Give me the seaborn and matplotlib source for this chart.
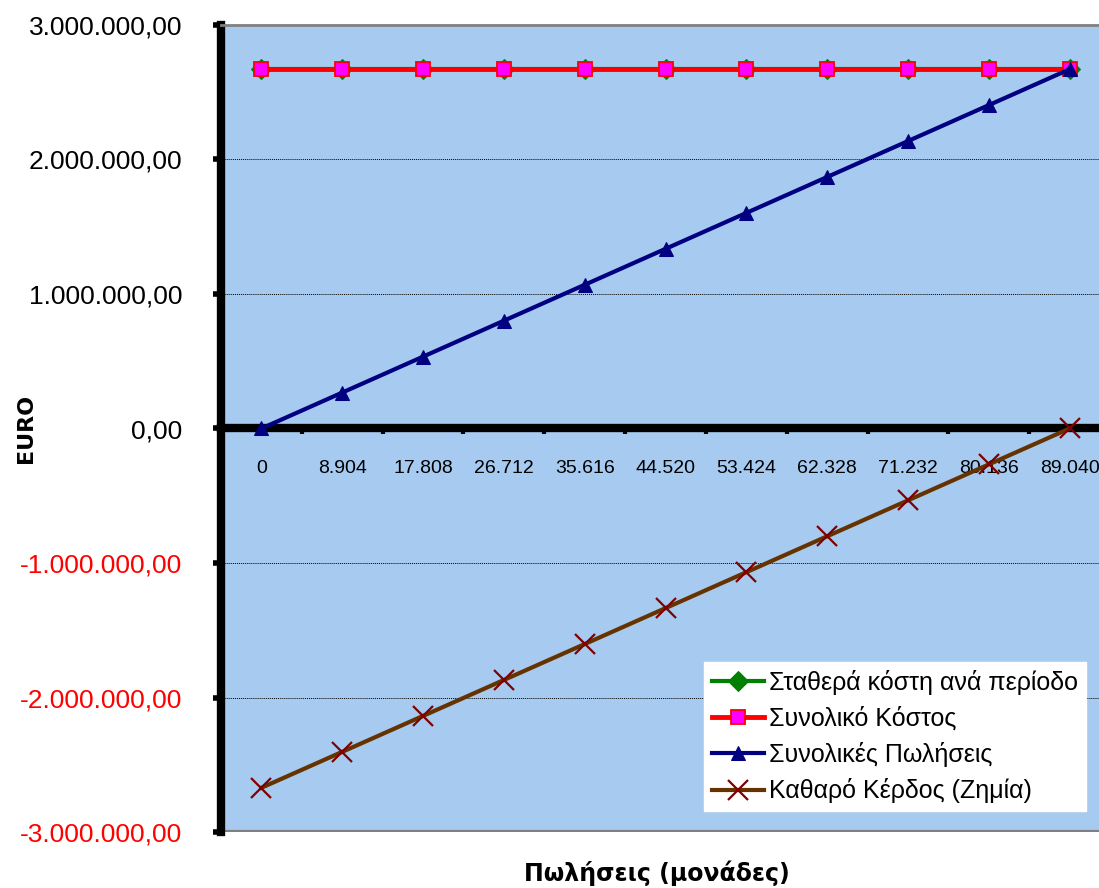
import matplotlib
matplotlib.use("Agg")
import matplotlib.pyplot as plt
import seaborn as sns
import numpy as np

# units sold (categories on the x axis)
units = [0, 8904, 17808, 26712, 35616, 44520, 53424, 62328, 71232, 80136, 89040]
unit_labels = ["0", "8.904", "17.808", "26.712", "35.616", "44.520",
               "53.424", "62.328", "71.232", "80.136", "89.040"]

# series values (EURO)
fixed_cost = [2671200] * 11
total_cost = [2671200] * 11
total_sales = [0, 267120, 534240, 801360, 1068480, 1335600,
               1602720, 1869840, 2136960, 2404080, 2671200]
net_profit = [-2671200, -2404080, -2136960, -1869840, -1602720, -1335600,
              -1068480, -801360, -534240, -267120, 0]

y_ticks = [-3000000, -2000000, -1000000, 0, 1000000, 2000000, 3000000]

series = [
    ("Σταθερά κόστη ανά περίοδο", fixed_cost,
     dict(color="#008000", marker="D", markersize=10, markerfacecolor="#008000", markeredgecolor="#008000")),
    ("Συνολικό Κόστος", total_cost,
     dict(color="#FF0000", marker="s", markersize=10, markerfacecolor="#FF00FF", markeredgecolor="#FF0000", markeredgewidth=1.3)),
    ("Συνολικές Πωλήσεις", total_sales,
     dict(color="#000080", marker="^", markersize=10, markerfacecolor="#000080", markeredgecolor="#000080")),
    ("Καθαρό Κέρδος (Ζημία)", net_profit,
     dict(color="#663300", marker="x", markersize=14, markeredgecolor="#800000", markeredgewidth=1.6)),
]

fig = plt.figure(figsize=(10.99, 8.88), dpi=100)
ax = fig.add_axes([221 / 1099, (888 - 832) / 888, 889 / 1099, 807 / 888])
ax.set_facecolor("#A6CAF0")

pos = np.arange(len(units))
for name, vals, style in series:
    lw = 3.5 if name == "Συνολικό Κόστος" else 3
    sns.lineplot(x=pos, y=vals, ax=ax, label=name, linewidth=lw, zorder=3, **style)

ax.set_xlim(-0.5, len(units) - 0.5)
ax.set_ylim(-3000000, 3000000)

# y axis
ax.set_yticks(y_ticks)
ax.set_yticklabels([f"{v:,.2f}".replace(",", "X").replace(".", ",").replace("X", ".") for v in y_ticks])
for lab, v in zip(ax.get_yticklabels(), y_ticks):
    lab.set_color("red" if v < 0 else "black")
    lab.set_fontfamily("Liberation Sans")
    lab.set_fontsize(19)
ax.tick_params(axis="y", direction="out", length=6, width=4, pad=22)
ax.yaxis.grid(True, color="black", linestyle=(0, (1, 1)), linewidth=0.7)
ax.set_axisbelow(True)

# x axis crossing at zero
ax.spines["bottom"].set_position(("data", 0))
ax.spines["bottom"].set_linewidth(6)
ax.spines["bottom"].set_zorder(2.5)
ax.spines["left"].set_linewidth(6)
ax.spines["top"].set_color("#808080")
ax.spines["top"].set_linewidth(2)
ax.spines["right"].set_visible(False)
ax.axhline(-3000000, color="#808080", linewidth=3, zorder=1)

ax.set_xticks(pos)
ax.set_xticklabels(unit_labels, fontfamily="Liberation Sans", fontsize=14)
ax.set_xticks(np.arange(len(units) + 1) - 0.5, minor=True)
ax.tick_params(axis="x", which="major", length=0, pad=23)
ax.tick_params(axis="x", which="minor", direction="out", length=4, width=3)

ax.set_ylabel("EURO", fontfamily="DejaVu Sans", fontweight="bold", fontsize=16)
ax.yaxis.set_label_coords(-185 / 889, 0.5)
fig.text(657 / 1099, 1 - 873 / 888, "Πωλήσεις (μονάδες)", ha="center", va="center",
         fontfamily="DejaVu Sans", fontweight="bold", fontsize=17)

leg = ax.legend(loc="upper left", bbox_to_anchor=((704 - 221) / 889, (832 - 662) / 807),
                borderaxespad=0, frameon=True, fancybox=False, framealpha=1,
                facecolor="white", edgecolor="white", handlelength=2.1,
                handletextpad=0.2, labelspacing=0.46, borderpad=0.3,
                prop={"family": "Liberation Sans", "size": 18})

fig.savefig("out.png", dpi=100)
